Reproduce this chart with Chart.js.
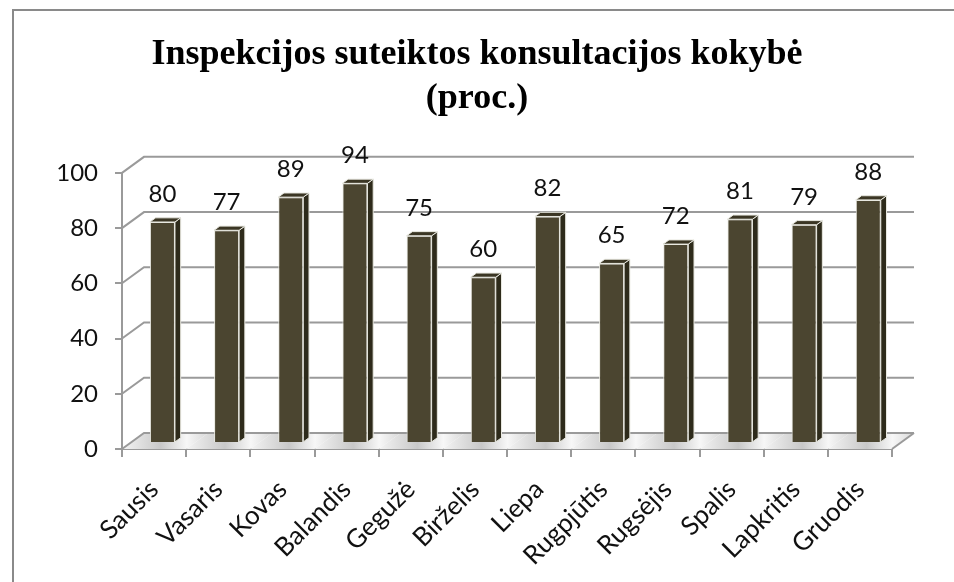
<!DOCTYPE html>
<html>
<head>
<meta charset="utf-8">
<script src="https://cdn.jsdelivr.net/npm/chart.js@4.4.0/dist/chart.umd.min.js"></script>
<style>
  body { margin: 0; background: #fff; }
  #wrap { width: 954px; height: 582px; }
</style>
</head>
<body>
<div id="wrap"><canvas id="kokybe" width="954" height="582"></canvas></div>
<script>
// duomenys
var months = ['Sausis', 'Vasaris', 'Kovas', 'Balandis', 'Gegužė', 'Birželis', 'Liepa', 'Rugpjūtis', 'Rugsėjis', 'Spalis', 'Lapkritis', 'Gruodis'];
var quality = [80, 77, 89, 94, 75, 60, 82, 65, 72, 81, 79, 88];
var yTicks = [0, 20, 40, 60, 80, 100];
var titleLines = ['Inspekcijos suteiktos konsultacijos kokybė', '(proc.)'];

// 3D look
var DX = 22, DY = -16;        // depth of the floor / back wall
var FRONT = 0.38, DEPTH = 0.26; // where the bars stand in depth
var gridColor = '#9a9a9a';
var barFront = '#4b4530', barSide = '#2e2b1b', barTop = '#3b3624';
var labelFont = '24px Lato';

function line(ctx, pts) {
    ctx.beginPath();
    ctx.moveTo(pts[0][0], pts[0][1]);
    for (var i = 1; i < pts.length; i++) ctx.lineTo(pts[i][0], pts[i][1]);
    ctx.stroke();
}

var box3d = {
    id: 'box3d',
    beforeDraw: function(chart) {
        var ctx = chart.ctx;
        ctx.save();
        ctx.fillStyle = '#fff';
        ctx.fillRect(0, 0, chart.width, chart.height);
        ctx.strokeStyle = '#8a8a8a';
        ctx.lineWidth = 2;
        ctx.strokeRect(13, 10, chart.width + 20, chart.height + 20);
        ctx.restore();
    },
    beforeDatasetsDraw: function(chart) {
        var ctx = chart.ctx, a = chart.chartArea;
        var y = chart.scales.y;
        var y0 = y.getPixelForValue(0);
        ctx.save();

        // floor with soft shading between bars
        var step = (a.right - a.left) / months.length;
        for (var i = 0; i < months.length; i++) {
            var l = a.left + i * step, r = l + step;
            var g = ctx.createLinearGradient(l, 0, r + DX, 0);
            g.addColorStop(0, '#f4f4f4');
            g.addColorStop(0.45, '#c8c8c8');
            g.addColorStop(0.75, '#f7f7f7');
            g.addColorStop(1, '#d8d8d8');
            ctx.fillStyle = g;
            ctx.beginPath();
            ctx.moveTo(l, y0);
            ctx.lineTo(l + DX, y0 + DY);
            ctx.lineTo(r + DX, y0 + DY);
            ctx.lineTo(r, y0);
            ctx.closePath();
            ctx.fill();
        }

        // back wall + side wall gridlines
        ctx.strokeStyle = gridColor;
        ctx.lineWidth = 2;
        yTicks.forEach(function(v) {
            var yy = y.getPixelForValue(v);
            line(ctx, [[a.left, yy], [a.left + DX, yy + DY], [a.right + DX, yy + DY]]);
        });
        line(ctx, [[a.right, y0], [a.right + DX, y0 + DY]]);
        ctx.restore();

        // front faces drawn by Chart.js, pushed into depth
        ctx.save();
        ctx.translate(DX * FRONT, DY * FRONT);
    },
    afterDatasetsDraw: function(chart) {
        var ctx = chart.ctx;
        ctx.restore();
        var fx = DX * FRONT, fy = DY * FRONT;
        var bx = DX * DEPTH, by = DY * DEPTH;
        var meta = chart.getDatasetMeta(0);
        ctx.save();
        ctx.lineWidth = 1;
        ctx.strokeStyle = '#e8e8e0';
        meta.data.forEach(function(bar, i) {
            var l = bar.x - bar.width / 2 + fx, r = bar.x + bar.width / 2 + fx;
            var t = bar.y + fy, b = bar.base + fy;
            // side
            ctx.fillStyle = barSide;
            ctx.beginPath();
            ctx.moveTo(r, t); ctx.lineTo(r + bx, t + by); ctx.lineTo(r + bx, b + by); ctx.lineTo(r, b);
            ctx.closePath(); ctx.fill(); ctx.stroke();
            // top
            ctx.fillStyle = barTop;
            ctx.beginPath();
            ctx.moveTo(l, t); ctx.lineTo(l + bx, t + by); ctx.lineTo(r + bx, t + by); ctx.lineTo(r, t);
            ctx.closePath(); ctx.fill(); ctx.stroke();
            // value
            ctx.fillStyle = '#111';
            ctx.font = labelFont;
            ctx.textAlign = 'center';
            ctx.textBaseline = 'alphabetic';
            ctx.fillText(quality[i], (l + r) / 2, t - 20);
        });
        ctx.restore();
    }
};

new Chart('kokybe', {
    type: 'bar',
    data: {
        labels: months,
        datasets: [{
            data: quality,
            backgroundColor: barFront,
            borderColor: '#e8e8e0',
            borderWidth: 1,
            categoryPercentage: 1,
            barPercentage: 0.39
        }]
    },
    options: {
        responsive: false,
        animation: false,
        layout: { padding: 0 },
        plugins: {
            legend: { display: false },
            tooltip: { enabled: false },
            title: {
                display: true,
                text: titleLines,
                color: '#000',
                font: { family: 'Liberation Serif', size: 36, weight: 'bold', lineHeight: 1.22 },
                padding: { top: 33, bottom: 52 }
            }
        },
        scales: {
            x: {
                offset: true,
                grid: { offset: true, drawOnChartArea: false, tickLength: 8, color: gridColor, lineWidth: 2 },
                border: { color: gridColor, width: 2 },
                ticks: { minRotation: 45, maxRotation: 45, color: '#111', font: { family: 'Lato', size: 26 }, padding: 17, labelOffset: 0 },
                afterFit: function(s) { s.height = 133; }
            },
            y: {
                min: 0,
                max: 100,
                grid: { drawOnChartArea: false, tickLength: 7, color: gridColor, lineWidth: 2 },
                border: { color: gridColor, width: 2 },
                ticks: { stepSize: 20, color: '#111', font: { family: 'Lato', size: 24 }, padding: 17 },
                afterFit: function(s) { s.width = 122; }
            },
            // empty strip on the right, leaves room for the back wall
            side: {
                position: 'right',
                grid: { display: false },
                border: { display: false },
                ticks: { display: false },
                afterFit: function(s) { s.width = 62; }
            }
        }
    },
    plugins: [box3d]
});
</script>
</body>
</html>
